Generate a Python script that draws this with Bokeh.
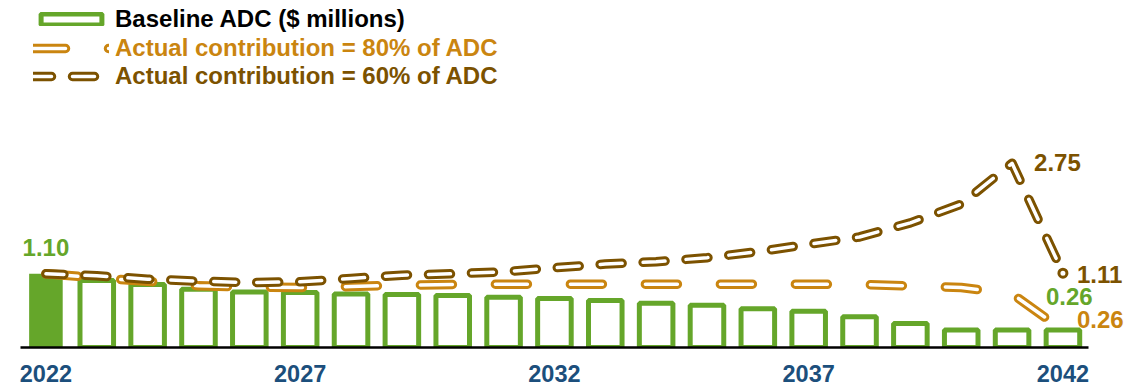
from bokeh.plotting import figure
from bokeh.models import ColumnDataSource, Legend, LegendItem, FixedTicker, Range1d
from bokeh.core.properties import value
from bokeh.embed import file_html
from bokeh.resources import INLINE

# ---------------- data ----------------
years = list(range(2022, 2043))
baseline_adc = [1.10, 1.00, 0.94, 0.87, 0.83, 0.82, 0.80, 0.79, 0.775, 0.75, 0.73,
                0.70, 0.66, 0.63, 0.58, 0.54, 0.46, 0.36, 0.26, 0.26, 0.26]
contrib_80 = [1.10, 1.04, 0.99, 0.92, 0.90, 0.895, 0.91, 0.93, 0.94, 0.945, 0.945,
              0.945, 0.945, 0.945, 0.945, 0.945, 0.94, 0.92, 0.895, 0.80, 0.26]
contrib_60 = [1.10, 1.07, 1.02, 0.99, 0.97, 0.98, 1.03, 1.08, 1.10, 1.13, 1.19,
              1.245, 1.28, 1.34, 1.43, 1.54, 1.65, 1.86, 2.14, 2.75, 1.11]
tick_years = [2022, 2027, 2032, 2037, 2042]
series_names = ["Baseline ADC ($ millions)",
                "Actual contribution = 80% of ADC",
                "Actual contribution = 60% of ADC"]

# ---------------- style ----------------
GREEN = "#65a62a"
ORANGE = "#ca8510"
BROWN = "#7c5200"
BLUE = "#1c4f7c"
FONT = "Liberation Sans"

W, H = 1135, 385
LEFT, BOTTOM = 20, 38
PX_PER_YEAR = 50.85
PX_PER_UNIT = 67.0
frame_w = W - LEFT
frame_h = H - BOTTOM

p = figure(width=W, height=H, output_backend="svg", toolbar_location=None,
           x_range=Range1d(2021.5, 2021.5 + frame_w / PX_PER_YEAR),
           y_range=Range1d(0, frame_h / PX_PER_UNIT),
           min_border_left=LEFT, min_border_right=0, min_border_top=0,
           min_border_bottom=BOTTOM, y_axis_location=None,
           outline_line_color=None, background_fill_color="white")
p.xgrid.visible = False
p.ygrid.visible = False

# bars
bar_first = p.vbar(x=years[:1], top=baseline_adc[:1], width=0.66,
                   fill_color=GREEN, line_color=None)
bar_rest = p.vbar(x=years[1:], top=baseline_adc[1:], width=0.66,
                  fill_color="white", line_color=GREEN, line_width=5)

# lines (outlined dashes: thick coloured dash + thin white dash)
def outlined(vals, color, dash, offset):
    outer = p.line(years, vals, line_color=color, line_width=9.5, line_dash=dash,
                   line_dash_offset=offset, line_cap="round", line_join="round")
    inner = p.line(years, vals, line_color="white", line_width=3.5, line_dash=dash,
                   line_dash_offset=offset, line_cap="round", line_join="round")
    return [outer, inner]

r80 = outlined(contrib_80, ORANGE, "32 43", 0)
r60 = outlined(contrib_60, BROWN, "22 21", 4)
p.scatter([years[-1]], [contrib_60[-1]], size=8, line_color=BROWN, line_width=3,
          fill_color="white")

# value labels
def fmt(v):
    return f"{v:.2f}"

labels = [
    (years[0], baseline_adc[0], GREEN, "center", 0, -26),
    (years[-1], baseline_adc[-1], GREEN, "left", -17, -34),
    (years[-1], contrib_80[-1], ORANGE, "left", 14, -11),
    (years[contrib_60.index(max(contrib_60))], max(contrib_60), BROWN, "left", 22, -1),
    (years[-1], contrib_60[-1], BROWN, "left", 14, 1),
]
for x, y, c, al, xo, yo in labels:
    p.text(x=[x], y=[y], text=[fmt(y)], text_color=c, text_align=al,
           text_baseline="middle", x_offset=xo, y_offset=yo,
           text_font=value(FONT), text_font_style="bold", text_font_size="24px")

# axis
ax = p.xaxis[0]
ax.ticker = FixedTicker(ticks=tick_years)
ax.bounds = (2021.5, 2042.5)
ax.axis_line_color = "black"
ax.axis_line_width = 2.5
ax.major_tick_line_color = None
ax.minor_tick_line_color = None
ax.major_tick_out = 0
ax.major_tick_in = 0
ax.major_label_standoff = 17
ax.major_label_text_font = FONT
ax.major_label_text_font_style = "bold"
ax.major_label_text_font_size = "23.5px"
ax.major_label_text_color = BLUE

# legends
leg_specs = [
    (series_names[0], [bar_rest], "black", 20.5),
    (series_names[1], r80, ORANGE, 49.5),
    (series_names[2], r60, BROWN, 77.5),
]
for name, rends, col, yc in leg_specs:
    leg = Legend(items=[LegendItem(label=name, renderers=rends)],
                 location=(13, frame_h - (yc + 12)),
                 border_line_color=None, background_fill_alpha=0,
                 padding=0, margin=0, spacing=0,
                 glyph_width=76, glyph_height=14, label_height=24,
                 label_standoff=6, label_text_font=FONT,
                 label_text_font_style="bold", label_text_font_size="24px",
                 label_text_color=col)
    p.add_layout(leg)

open("out.html", "w").write(file_html(p, INLINE))
